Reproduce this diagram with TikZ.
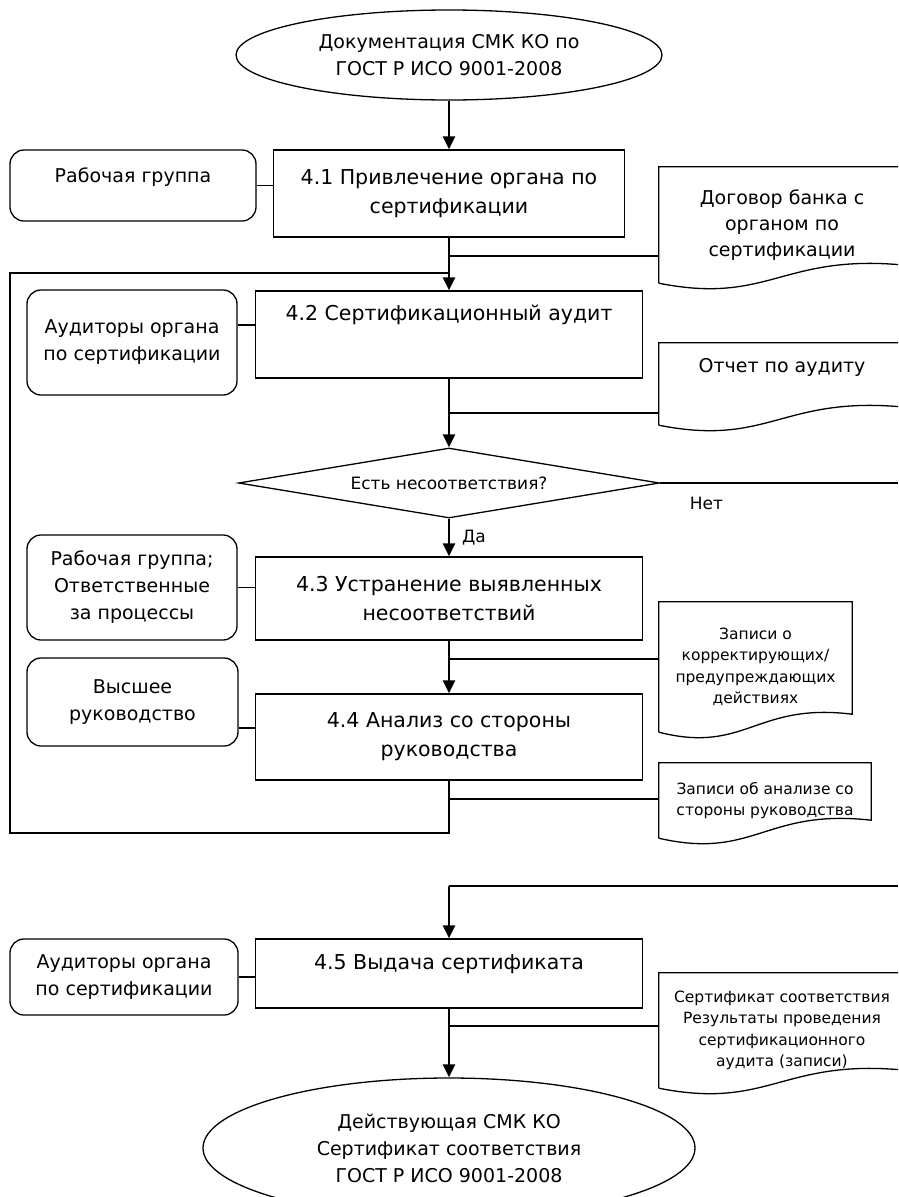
\documentclass[tikz,border=0pt]{standalone}
\usepackage{fontspec}
\setmainfont{DejaVu Sans}
\usepackage{tikz}
\usetikzlibrary{arrows.meta,shapes.geometric,calc}

\begin{document}
\begin{tikzpicture}[
    x=1pt, y=-1pt,
    procnode/.style={
        draw=black,
        fill=white,
        line width=1.3pt,
        inner sep=2pt,
        align=center,
        font=\fontsize{20.5}{29}\selectfont
    },
    rolenode/.style={
        draw=black,
        rounded corners=14pt,
        line width=1.3pt,
        inner sep=2pt,
        align=center,
        font=\fontsize{19}{27}\selectfont
    },
    docnode/.style={
        inner sep=2pt,
        align=center,
        font=\fontsize{19}{26}\selectfont
    },
    smalldoc/.style={
        docnode,
        font=\fontsize{15.5}{21.5}\selectfont
    },
    termnode/.style={
        ellipse,
        draw=black,
        line width=1.3pt,
        inner sep=0pt,
        align=center,
        font=\fontsize{19}{27}\selectfont
    },
    decnode/.style={
        diamond,
        aspect=6,
        draw=black,
        line width=1.3pt,
        inner sep=0pt,
        font=\fontsize{17}{20}\selectfont
    },
    lbl/.style={font=\fontsize{17}{20}\selectfont, inner sep=0pt},
    docline/.style={draw=black, line width=1.3pt},
    flowline/.style={-{Triangle[length=13pt,width=12pt]}, line width=2.6pt},
    linkline/.style={line width=1.3pt}
]
    \useasboundingbox (0,0) rectangle (898,1197);
    \clip (0,0) rectangle (898,1197);

    % --- START / FINISH ---
    \node[termnode, minimum width=426pt, minimum height=90pt] (start) at (449,55)
        {Документация СМК КО по\\ГОСТ Р ИСО 9001-2008};
    \node[termnode, minimum width=492pt, minimum height=140pt] (finish) at (449,1148)
        {Действующая СМК КО\\Сертификат соответствия\\ГОСТ Р ИСО 9001-2008};

    % --- PROCESS STEPS ---
    \node[procnode, minimum width=351pt, minimum height=87pt] (p41) at (449,193.5)
        {4.1 Привлечение органа по\\сертификации};
    \node[procnode, minimum width=387pt, minimum height=87pt, text depth=44pt] (p42) at (449,334.5)
        {4.2 Сертификационный аудит};
    \node[decnode, minimum width=421pt, minimum height=70pt] (dia) at (449,483)
        {Есть несоответствия?};
    \node[procnode, minimum width=387pt, minimum height=83pt] (p43) at (449,598.5)
        {4.3 Устранение выявленных\\несоответствий};
    \node[procnode, minimum width=387pt, minimum height=86pt] (p44) at (449,737)
        {4.4 Анализ со стороны\\руководства};
    \node[procnode, minimum width=387pt, minimum height=69pt, text depth=22pt] (p45) at (449,973.5)
        {4.5 Выдача сертификата};

    \node[lbl, anchor=west] (da) at (462,538) {Да};
    \node[lbl] (net) at (706.5,503) {Нет};

    % --- PARTICIPANTS ---
    \node[rolenode, minimum width=246pt, minimum height=71pt, text depth=21pt] (rg1) at (133,185.5)
        {Рабочая группа};
    \node[rolenode, minimum width=210pt, minimum height=105pt] (aud1) at (132,342.5)
        {Аудиторы органа\\по сертификации};
    \node[rolenode, minimum width=210pt, minimum height=105pt] (rg2) at (132,587.5)
        {Рабочая группа;\\Ответственные\\за процессы};
    \node[rolenode, minimum width=211pt, minimum height=88pt] (vys) at (132.5,702)
        {Высшее\\руководство};
    \node[rolenode, minimum width=228pt, minimum height=76pt] (aud2) at (124,977)
        {Аудиторы органа\\по сертификации};

    % --- DOCUMENTS ---
    \node[docnode, minimum width=246pt, minimum height=116pt] (dog) at (782,225)
        {Договор банка с\\органом по\\сертификации};
    \node[docnode, minimum width=246pt, minimum height=82pt, text depth=38pt] (otch) at (782,384)
        {Отчет по аудиту};
    \node[smalldoc, minimum width=193pt, minimum height=130pt] (zap1) at (755.5,667)
        {Записи о\\корректирующих/\\предупреждающих\\действиях};
    \node[smalldoc, minimum width=212pt, minimum height=75pt] (zap2) at (765,800.5)
        {Записи об анализе со\\стороны руководства};
    \node[smalldoc, minimum width=246pt, minimum height=115pt] (sert) at (782,1030.5)
        {Сертификат соответствия\\Результаты проведения\\сертификационного\\аудита (записи)};

    \foreach \d in {dog,otch,zap1,zap2,sert}
        \draw[docline] (\d.south west) -- (\d.north west) -- (\d.north east)
            -- ($(\d.south east)+(0,-18)$)
            .. controls ($(\d.south)+(0,-30)$) and ($(\d.south west)!0.45!(\d.south east)+(0,22)$)
            .. (\d.south west);

    % --- MAIN FLOW ---
    \draw[flowline] (start) -- (p41);
    \draw[flowline] (p41) -- (p42);
    \draw[flowline] (p42) -- (dia);
    \draw[flowline] (dia) -- (p43);
    \draw[flowline] (p43) -- (p44);
    \draw[flowline] (p45) -- (finish);

    % --- LOOP BACK TO 4.2 ---
    \coordinate (lpA) at (449,833);
    \coordinate (lpB) at (10,833);
    \coordinate (lpC) at (10,273);
    \coordinate (lpD) at (449,273);
    \draw[linkline] (p44.south) -- (lpA) -- (lpB) -- (lpC) -- (lpD);

    % --- NO BRANCH ---
    \coordinate (netEnd) at (898,483);
    \coordinate (retA) at (898,886);
    \coordinate (retB) at (449,886);
    \draw[linkline] (dia.east) -- (netEnd);
    \draw[linkline] (retA) -- (retB);
    \draw[flowline] (retB) -- (p45);

    % --- PARTICIPANT LINKS ---
    \draw[linkline] (rg1.east) -- (rg1.east -| p41.west);
    \draw[linkline] (aud1.east |- 0,325) -- (p42.west |- 0,325);
    \draw[linkline] (rg2.east) -- (rg2.east -| p43.west);
    \draw[linkline] (vys.east |- 0,728) -- (p44.west |- 0,728);
    \draw[linkline] (aud2.east) -- (aud2.east -| p45.west);

    % --- DOCUMENT LINKS ---
    \draw[linkline] (p41.south |- 0,256) -- (dog.west |- 0,256);
    \draw[linkline] (p42.south |- 0,413) -- (otch.west |- 0,413);
    \draw[linkline] (p43.south |- 0,659) -- (zap1.west |- 0,659);
    \draw[linkline] (p44.south |- 0,799) -- (zap2.west |- 0,799);
    \draw[linkline] (p45.south |- 0,1026) -- (sert.west |- 0,1026);
\end{tikzpicture}
\end{document}
